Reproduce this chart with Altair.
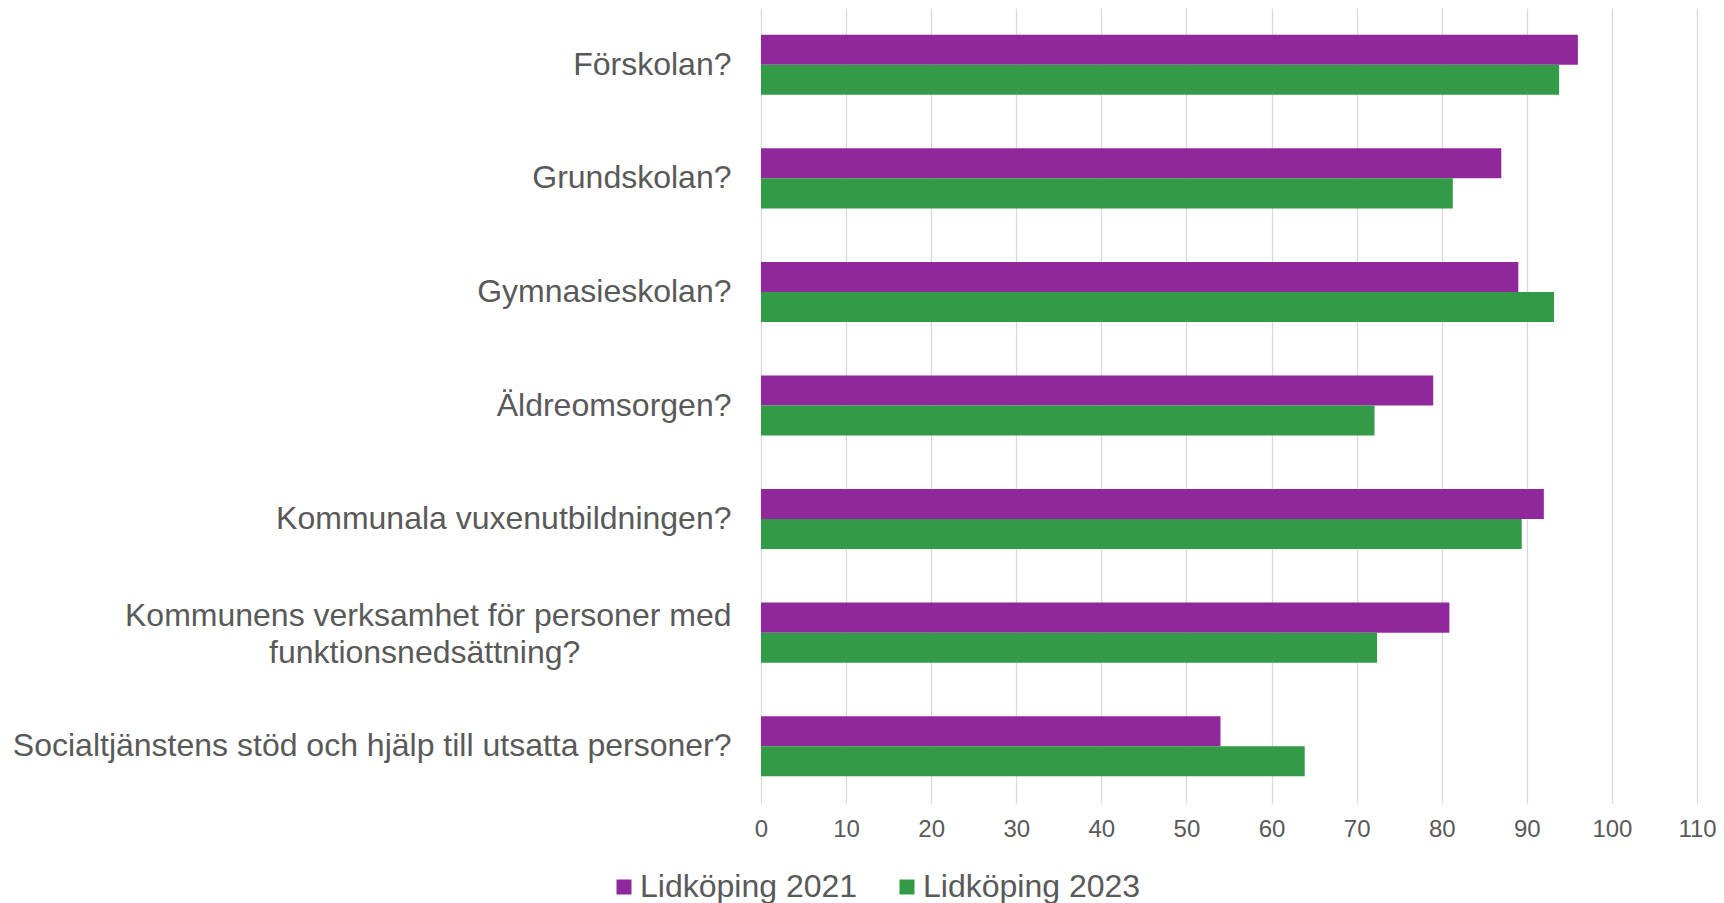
import altair as alt
import pandas as pd

categories = [
    "Förskolan?",
    "Grundskolan?",
    "Gymnasieskolan?",
    "Äldreomsorgen?",
    "Kommunala vuxenutbildningen?",
    "Kommunens verksamhet för personer med funktionsnedsättning?",
    "Socialtjänstens stöd och hjälp till utsatta personer?",
]
series = ["Lidköping 2021", "Lidköping 2023"]
values_2021 = [96.0, 87.0, 89.0, 79.0, 92.0, 80.9, 54.0]
values_2023 = [93.8, 81.3, 93.2, 72.1, 89.4, 72.4, 63.9]
x_ticks = [0, 10, 20, 30, 40, 50, 60, 70, 80, 90, 100, 110]

rows = []
for c, a, b in zip(categories, values_2021, values_2023):
    rows.append({"category": c, "series": series[0], "value": a})
    rows.append({"category": c, "series": series[1], "value": b})
df = pd.DataFrame(rows)

FONT = "Liberation Sans"
TEXT = "#595959"
PURPLE = "#8F299B"
GREEN = "#339A47"

long_label = categories[5]
# non-breaking spaces keep the second line centred under the first (zero-width char stops trimming)
pad = "\u00a0" * 17 + "\u200b"
label_expr = (
    f"datum.label == '{long_label}' ? "
    f"['Kommunens verksamhet för personer med', 'funktionsnedsättning?{pad}'] : datum.label"
)

chart = (
    alt.Chart(df)
    .mark_bar()
    .encode(
        y=alt.Y(
            "category:N",
            sort=categories,
            scale=alt.Scale(paddingInner=0.471, paddingOuter=0.2355),
            axis=alt.Axis(
                title=None,
                labelExpr=label_expr,
                labelFontSize=32,
                labelColor=TEXT,
                labelFont=FONT,
                labelBaseline={
                    "condition": {"test": f"datum.value == '{long_label}'", "value": "bottom"},
                    "value": "middle",
                },
                ticks=False,
                domain=False,
                labelPadding=30,
                labelLimit=1000,
                labelLineHeight=37,
            ),
        ),
        x=alt.X(
            "value:Q",
            scale=alt.Scale(domain=[0, 110], nice=False),
            axis=alt.Axis(
                values=x_ticks,
                title=None,
                grid=True,
                gridColor="#d9d9d9",
                gridWidth=1.3,
                domain=False,
                ticks=False,
                labelFlush=False,
                labelFontSize=24,
                labelPadding=14,
                labelColor=TEXT,
                labelFont=FONT,
            ),
        ),
        yOffset=alt.YOffset("series:N", sort=series),
        color=alt.Color(
            "series:N",
            sort=series,
            scale=alt.Scale(domain=series, range=[PURPLE, GREEN]),
            legend=alt.Legend(
                orient="none",
                legendX=-153,
                legendY=863,
                direction="horizontal",
                title=None,
                symbolType="square",
                symbolSize=225,
                symbolStrokeWidth=0,
                labelFontSize=32,
                labelFont=FONT,
                labelColor=TEXT,
                labelLimit=400,
                columnPadding=33,
                labelOffset=0,
                padding=0,
            ),
        ),
    )
    .properties(
        width=936,
        height=795,
        padding={"left": 753, "top": 0, "right": 19, "bottom": 105},
        autosize=alt.AutoSizeParams(type="none"),
    )
    .configure_view(strokeWidth=0)
)

chart.save("out.html", embed_options={"renderer": "svg", "actions": False})
